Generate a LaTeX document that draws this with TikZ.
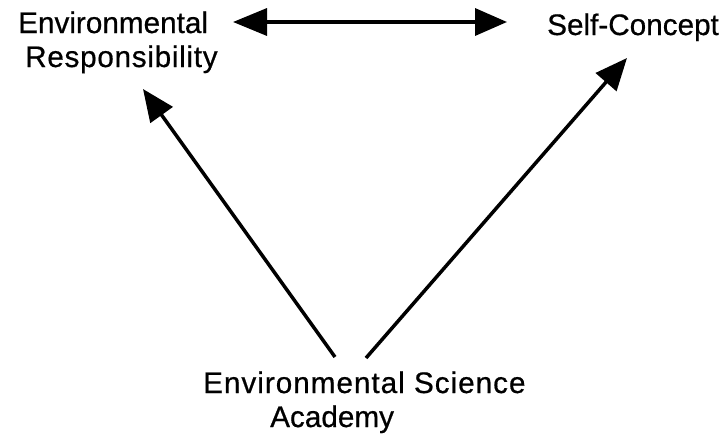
\documentclass[tikz,border=0pt]{standalone}
\usepackage{fontspec}
\setmainfont{Liberation Sans}[FakeBold=0.6]
\usetikzlibrary{arrows.meta}
\begin{document}
\begin{tikzpicture}[x=1pt,y=-1pt,
  label/.style={inner sep=0pt, font=\fontsize{29.7pt}{34pt}\selectfont},
  link/.style={line width=3.5pt, -{Triangle[length=32pt,width=27pt]}},
  bilink/.style={line width=3.5pt, {Triangle[length=34pt,width=27pt]}-{Triangle[length=32pt,width=27pt]}}]
  \useasboundingbox (0,0) rectangle (722,445);
  % concept labels (base anchor sits on the last line)
  \node[label, anchor=base west, align=left] (er) at (18,67)
    {Environmental\\\hspace*{7pt}{\addfontfeature{LetterSpace=2.4}Responsibility}};
  \node[label, anchor=base west] (sc) at (547,35) {Self-Concept};
  \node[label, anchor=base west, align=left] (esa) at (203,427)
    {{\addfontfeature{LetterSpace=3.3}Environmental Science}\\\hspace*{67pt}Academy};
  % arrow ends
  \coordinate (erL) at (233,22);
  \coordinate (scR) at (507,22);
  \coordinate (erIn) at (143,89);
  \coordinate (scIn) at (627,58);
  \coordinate (esaL) at (335,357);
  \coordinate (esaR) at (366,358);
  % relations
  \draw[bilink] (erL) -- (scR);
  \draw[link] (esaL) -- (erIn);
  \draw[link] (esaR) -- (scIn);
\end{tikzpicture}
\end{document}
